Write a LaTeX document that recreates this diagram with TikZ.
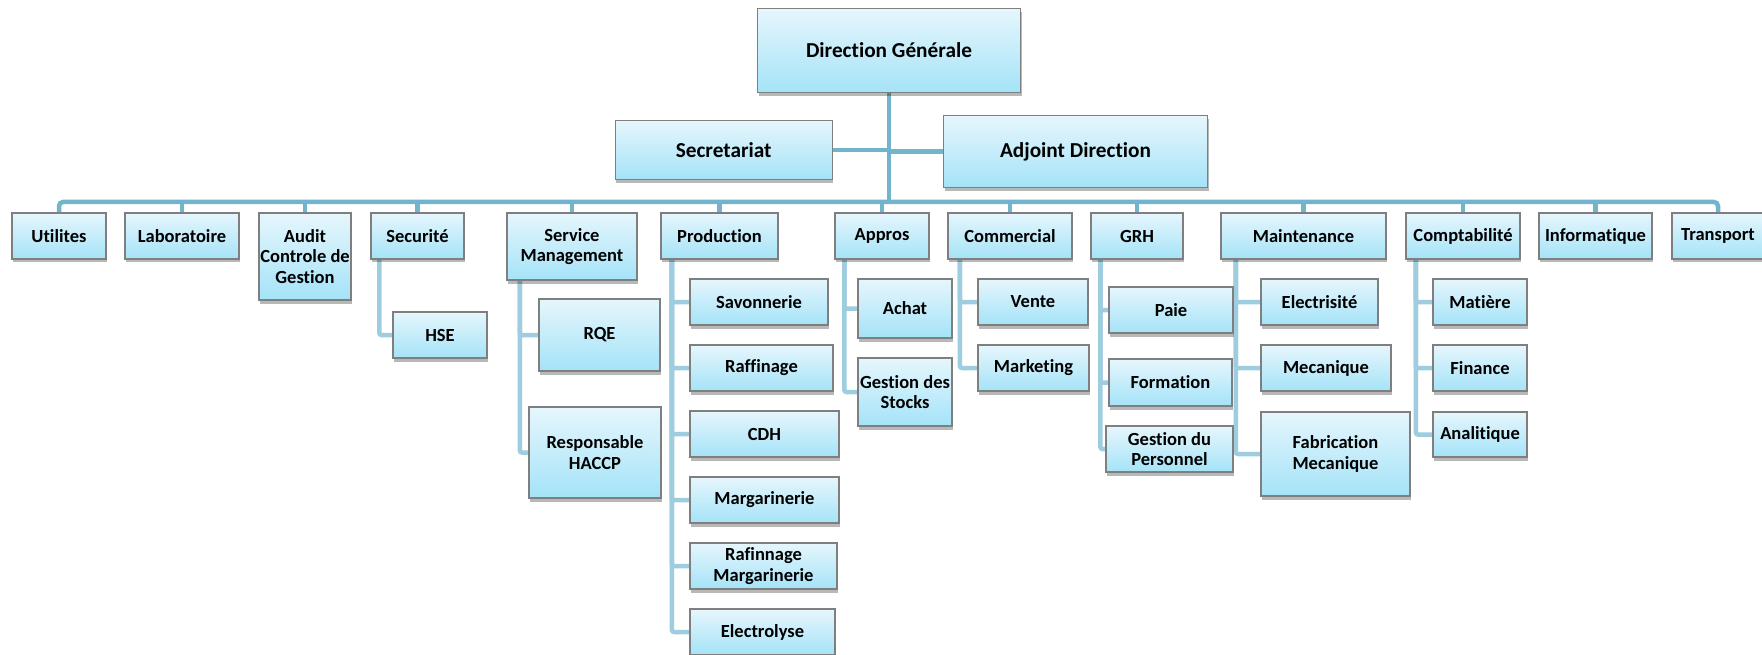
\documentclass[tikz,border=0pt]{standalone}
\usepackage{fontspec}
\setmainfont{Carlito}[Ligatures=NoCommon]
\usetikzlibrary{shadows,backgrounds}
\definecolor{busc}{HTML}{72B4CB}
\definecolor{subc}{HTML}{9DCDDE}
\definecolor{boxtop}{HTML}{E6F6FC}
\definecolor{boxbot}{HTML}{A4E3F8}
\definecolor{boxdraw}{HTML}{7F7F7F}
\tikzset{
  box/.style={draw=boxdraw, line width=1.1pt, top color=boxtop, bottom color=boxbot,
    inner sep=0pt, align=center, font=\fontsize{18.5}{20.5}\selectfont\bfseries,
    drop shadow={shadow xshift=1pt,shadow yshift=-3.5pt,opacity=0.28,fill=black}},
  topbox/.style={box, font=\fontsize{21.3}{24}\selectfont\bfseries},
  mainline/.style={draw=busc, line width=4.5pt},
  subline/.style={draw=subc, line width=4.5pt, rounded corners=2pt},
}
\newcommand\obox[7][box]{\node[#1,minimum width=#5pt,minimum height=#6pt] (#2) at (#3,#4) {#7};}
\begin{document}
\begin{tikzpicture}[x=1pt,y=-1pt]
\useasboundingbox (0,0) rectangle (1762,655);
\obox[topbox]{dg}{889}{50.5}{263}{84}{Direction Générale}
\obox[topbox]{sec}{723.7}{150}{217}{59}{Secretariat}
\obox[topbox]{adj}{1075.5}{151.7}{264}{72}{Adjoint Direction}
\obox{uti}{59}{236}{94}{46}{Utilites}
\obox{lab}{182}{236}{114}{46}{Laboratoire}
\obox{aud}{305}{256.5}{92}{87}{Audit\\Controle de\\Gestion}
\obox{secu}{417.5}{236}{93}{46}{Securité}
\obox{hse}{440}{335}{94}{46}{HSE}
\obox{sm}{572}{246.5}{130}{67}{Service\\Management}
\obox{rqe}{599.5}{335}{121}{72}{RQE}
\obox{haccp}{595}{452.5}{132}{91}{Responsable\\HACCP}
\obox{prod}{719.5}{236}{117}{46}{Production}
\obox{savon}{759}{302}{138}{46}{Savonnerie}
\obox{raff}{761.5}{368}{143}{46}{Raffinage}
\obox{cdh}{764.5}{434}{149}{46}{CDH}
\obox{marg}{764.5}{500}{149}{46}{Margarinerie}
\obox{rafm}{763.5}{566}{147}{46}{Rafinnage\\Margarinerie}
\obox{elec}{762.5}{632}{145}{46}{Electrolyse}
\obox{appros}{882}{236}{94}{46}{Appros}
\obox{achat}{905}{308.5}{94}{59}{Achat}
\obox{gstock}{905}{392}{94}{68}{Gestion des\\Stocks}
\obox{comm}{1010}{236}{124}{46}{Commercial}
\obox{vente}{1033}{302}{110}{46}{Vente}
\obox{market}{1033.5}{368}{111}{46}{Marketing}
\obox{grh}{1137}{236}{92}{46}{GRH}
\obox{paie}{1171}{310}{124}{46}{Paie}
\obox{form}{1170.5}{382.5}{123}{47}{Formation}
\obox{gpers}{1169.5}{449}{127}{46}{Gestion du\\Personnel}
\obox{maint}{1303.5}{236}{165}{46}{Maintenance}
\obox{elect}{1319.5}{302}{117}{46}{Electrisité}
\obox{meca}{1326}{368}{130}{46}{Mecanique}
\obox{fabm}{1335.5}{454}{149}{84}{Fabrication\\Mecanique}
\obox{compt}{1463}{236}{114}{46}{Comptabilité}
\obox{mat}{1480}{302}{94}{46}{Matière}
\obox{fin}{1480}{368}{94}{46}{Finance}
\obox{anal}{1480}{434.5}{94}{45}{Analitique}
\obox{info}{1595.5}{236}{113}{46}{Informatique}
\obox{trans}{1718}{236}{92}{46}{Transport}
\coordinate (bus) at (889,202);
\begin{scope}[on background layer]
\fill[white] (0,0) rectangle (1762,655);
\draw[mainline] (dg.south) -- (dg.south |- bus);
\draw[mainline] (sec.east) -- (sec.east -| dg.south);
\draw[mainline] (adj.west) -- (adj.west -| dg.south);
\draw[mainline, rounded corners=4pt] (uti.north) |- (bus) -| (trans.north);
\foreach \n in {lab,aud,secu,sm,prod,appros,comm,grh,maint,compt,info}
  \draw[mainline] (\n.north) -- (\n.north |- bus);
\draw[subline] ([xshift=9pt]secu.south west) |- (hse.west);
\foreach \c in {rqe,haccp} \draw[subline] ([xshift=13.5pt]sm.south west) |- (\c.west);
\foreach \c in {savon,raff,cdh,marg,rafm,elec} \draw[subline] ([xshift=11.5pt]prod.south west) |- (\c.west);
\foreach \c in {achat,gstock} \draw[subline] ([xshift=10pt]appros.south west) |- (\c.west);
\foreach \c in {vente,market} \draw[subline] ([xshift=12.5pt]comm.south west) |- (\c.west);
\foreach \c in {paie,form,gpers} \draw[subline] ([xshift=10pt]grh.south west) |- (\c.west);
\foreach \c in {elect,meca,fabm} \draw[subline] ([xshift=15.5pt]maint.south west) |- (\c.west);
\foreach \c in {mat,fin,anal} \draw[subline] ([xshift=10.5pt]compt.south west) |- (\c.west);
\end{scope}
\end{tikzpicture}
\end{document}
